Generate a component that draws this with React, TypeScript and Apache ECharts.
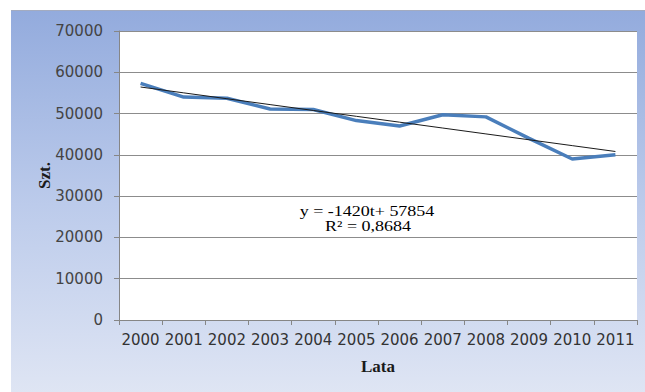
import React, { useEffect, useRef } from "react";
import * as echarts from "echarts";

// Yearly counts (Szt.) by year (Lata)
const years = ["2000", "2001", "2002", "2003", "2004", "2005", "2006", "2007", "2008", "2009", "2010", "2011"];
const counts = [57300, 54000, 53700, 51100, 51000, 48300, 47000, 49700, 49200, 44000, 39000, 40000];

// Linear trend y = slope * t + intercept, t = 1..12
const trendSlope = -1420;
const trendIntercept = 57854;
const trendR2 = "0,8684";

const yTicks = { min: 0, max: 70000, interval: 10000 };

export default function App() {
  const ref = useRef<HTMLDivElement>(null);

  useEffect(() => {
    if (!ref.current) return;
    const chart = echarts.init(ref.current, null, { renderer: "svg" });
    const trend = years.map((_, i) => trendSlope * (i + 1) + trendIntercept);

    chart.setOption({
      animation: false,
      graphic: [
        {
          type: "rect",
          z: -10,
          silent: true,
          shape: { x: 11, y: 10, width: 640, height: 390 },
          style: {
            fill: new echarts.graphic.LinearGradient(0, 0, 0, 1, [
              { offset: 0, color: "#93abdd" },
              { offset: 0.5, color: "#bccbeb" },
              { offset: 1, color: "#e0e6f4" },
            ]),
          },
        },
        {
          type: "line",
          z: -9,
          silent: true,
          shape: { x1: 11, y1: 10.5, x2: 645, y2: 10.5 },
          style: { stroke: "#a3abc0", lineWidth: 1 },
        },
        {
          type: "text",
          x: 367,
          y: 211,
          scaleX: 1.2,
          style: {
            text: `y = ${trendSlope}t+ ${trendIntercept}`,
            font: '15px "Liberation Serif"',
            fill: "#000",
            align: "center",
            verticalAlign: "middle",
          },
        },
        {
          type: "text",
          x: 368,
          y: 226,
          scaleX: 1.2,
          style: {
            text: `R² = ${trendR2}`,
            font: '15px "Liberation Serif"',
            fill: "#000",
            align: "center",
            verticalAlign: "middle",
          },
        },
      ],
      grid: {
        left: 119,
        top: 31,
        right: 8,
        bottom: 72,
        show: true,
        backgroundColor: "#ffffff",
        borderWidth: 0,
      },
      xAxis: {
        type: "category",
        data: years,
        boundaryGap: true,
        name: "Lata",
        nameLocation: "middle",
        nameGap: 38,
        nameMoveOverlap: false,
        nameTextStyle: {
          fontFamily: "Liberation Serif",
          fontWeight: "bold",
          fontSize: 17,
          color: "#1a1a1a",
        },
        axisLine: { show: true, lineStyle: { color: "#868686", width: 1 } },
        axisTick: { show: true, interval: 0, length: 5, lineStyle: { color: "#868686" } },
        axisLabel: {
          interval: 0,
          margin: 12,
          fontFamily: "DejaVu Sans",
          fontSize: 15,
          color: "#333333",
        },
        splitLine: { show: false },
      },
      yAxis: {
        type: "value",
        min: yTicks.min,
        max: yTicks.max,
        interval: yTicks.interval,
        name: "Szt.",
        nameLocation: "middle",
        nameGap: 66,
        nameRotate: 90,
        nameMoveOverlap: false,
        nameTextStyle: {
          fontFamily: "Liberation Serif",
          fontWeight: "bold",
          fontSize: 17,
          color: "#1a1a1a",
        },
        axisLine: { show: true, lineStyle: { color: "#868686", width: 1 } },
        axisTick: { show: true, length: 5, lineStyle: { color: "#868686" } },
        axisLabel: {
          margin: 16,
          fontFamily: "DejaVu Sans",
          fontSize: 15,
          color: "#444444",
          formatter: (v: number) => String(v),
        },
        splitLine: { show: true, lineStyle: { color: "#8c8c8c", width: 1 } },
      },
      series: [
        {
          name: "Szt.",
          type: "line",
          data: counts,
          symbol: "none",
          lineStyle: { color: "#4a7ebb", width: 3.5 },
          z: 2,
        },
        {
          name: "Trend",
          type: "line",
          data: trend,
          symbol: "none",
          lineStyle: { color: "#1a1a1a", width: 1 },
          z: 3,
        },
      ],
    });

    return () => chart.dispose();
  }, []);

  return (
    <div
      ref={ref}
      style={{ position: "fixed", left: 0, top: 0, width: 645, height: 392, background: "#ffffff" }}
    />
  );
}
